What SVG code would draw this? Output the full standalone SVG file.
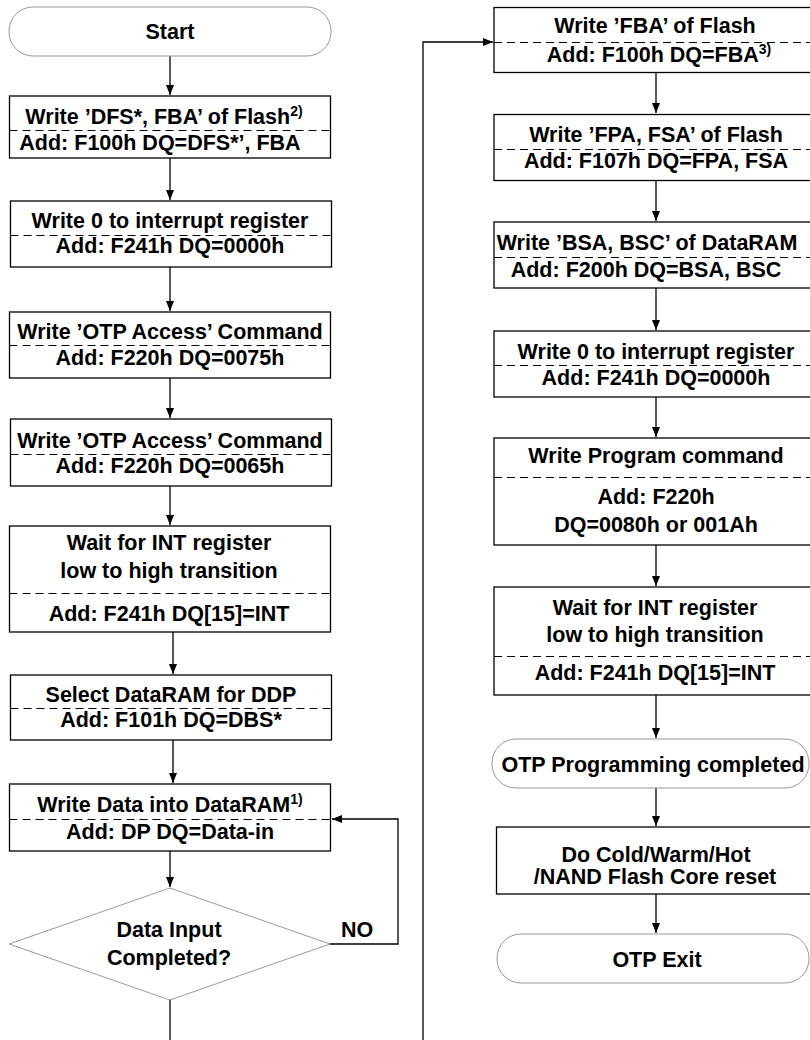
<svg xmlns="http://www.w3.org/2000/svg" width="810" height="1040" viewBox="0 0 810 1040">
<defs>
<style>
.box{fill:#fff;stroke:#000;stroke-width:1.3}
.term{fill:#fff;stroke:#999;stroke-width:1}
.dash{stroke:#000;stroke-width:1;stroke-dasharray:8,5;fill:none}
.t{font-family:"Liberation Sans",Arial,sans-serif;font-weight:bold;font-size:21.5px;fill:#000;text-anchor:middle}
.sup{font-size:14px}
.c{fill:none;stroke:#000;stroke-width:1.3}
</style>
<marker id="ah" markerUnits="userSpaceOnUse" markerWidth="10" markerHeight="8" refX="10" refY="4" orient="auto">
<path d="M0,0 L10,4 L0,8 z" fill="#000"/>
</marker>
</defs>
<rect width="810" height="1040" fill="#fff"/>

<g id="connectors">
<path class="c" d="M170,56 V95" marker-end="url(#ah)"/>
<path class="c" d="M170,158 V200" marker-end="url(#ah)"/>
<path class="c" d="M170,267 V311" marker-end="url(#ah)"/>
<path class="c" d="M170,378 V418" marker-end="url(#ah)"/>
<path class="c" d="M170,486 V525" marker-end="url(#ah)"/>
<path class="c" d="M173,632 V674" marker-end="url(#ah)"/>
<path class="c" d="M173,740 V783" marker-end="url(#ah)"/>
<path class="c" d="M170,851 V887" marker-end="url(#ah)"/>
<path class="c" d="M330,944 H398 V819 H332" marker-end="url(#ah)"/>
<path class="c" d="M170,1000 V1040"/>
<path class="c" d="M423,1040 V42 H493" marker-end="url(#ah)"/>
<path class="c" d="M656,73 V113" marker-end="url(#ah)"/>
<path class="c" d="M656,181 V221" marker-end="url(#ah)"/>
<path class="c" d="M656,288 V330" marker-end="url(#ah)"/>
<path class="c" d="M656,397 V437" marker-end="url(#ah)"/>
<path class="c" d="M656,545 V586" marker-end="url(#ah)"/>
<path class="c" d="M656,695 V738" marker-end="url(#ah)"/>
<path class="c" d="M656,788 V826" marker-end="url(#ah)"/>
<path class="c" d="M656,894 V933" marker-end="url(#ah)"/>
<text class="t" x="357" y="937">NO</text>
</g>

<g id="start">
<rect class="term" x="9" y="7" width="322" height="49" rx="24" ry="24"/>
<text class="t" x="170" y="39">Start</text>
</g>

<g id="write-dfs-fba">
<rect class="box" x="9.5" y="96" width="321" height="62"/>
<line class="dash" x1="9.5" y1="130.5" x2="330.5" y2="130.5"/>
<text class="t" x="164" y="124">Write ’DFS*, FBA’ of Flash<tspan class="sup" dy="-8">2)</tspan></text>
<text class="t" x="160" y="150">Add: F100h DQ=DFS*’, FBA</text>
</g>

<g id="write-int-1">
<rect class="box" x="10.5" y="201" width="321" height="66"/>
<line class="dash" x1="10.5" y1="235.5" x2="331.5" y2="235.5"/>
<text class="t" x="170" y="228">Write 0 to interrupt register</text>
<text class="t" x="170" y="253">Add: F241h DQ=0000h</text>
</g>

<g id="otp-access-1">
<rect class="box" x="9.5" y="312" width="321" height="66"/>
<line class="dash" x1="9.5" y1="345.5" x2="330.5" y2="345.5"/>
<text class="t" x="170" y="339">Write ’OTP Access’ Command</text>
<text class="t" x="170" y="365">Add: F220h DQ=0075h</text>
</g>

<g id="otp-access-2">
<rect class="box" x="10.5" y="419" width="321" height="67"/>
<line class="dash" x1="10.5" y1="454.5" x2="331.5" y2="454.5"/>
<text class="t" x="170" y="448">Write ’OTP Access’ Command</text>
<text class="t" x="170" y="473">Add: F220h DQ=0065h</text>
</g>

<g id="wait-int-1">
<rect class="box" x="9.5" y="526" width="321" height="106"/>
<line class="dash" x1="9.5" y1="593.5" x2="330.5" y2="593.5"/>
<text class="t" x="169" y="550">Wait for INT register</text>
<text class="t" x="169" y="578">low to high transition</text>
<text class="t" x="169" y="621">Add: F241h DQ[15]=INT</text>
</g>

<g id="select-dataram">
<rect class="box" x="10.5" y="675" width="321" height="65"/>
<line class="dash" x1="10.5" y1="708.5" x2="331.5" y2="708.5"/>
<text class="t" x="171" y="702">Select DataRAM for DDP</text>
<text class="t" x="171" y="727">Add: F101h DQ=DBS*</text>
</g>

<g id="write-data">
<rect class="box" x="9.5" y="784" width="321" height="67"/>
<line class="dash" x1="9.5" y1="819.5" x2="330.5" y2="819.5"/>
<text class="t" x="170" y="812">Write Data into DataRAM<tspan class="sup" dy="-8">1)</tspan></text>
<text class="t" x="170" y="839">Add: DP DQ=Data-in</text>
</g>

<g id="data-input-completed">
<polygon class="term" points="170,888 330,944 170,1000 9,944"/>
<text class="t" x="169" y="937">Data Input</text>
<text class="t" x="169" y="965">Completed?</text>
</g>

<g id="write-fba">
<rect class="box" x="494" y="7.5" width="330" height="65"/>
<line class="dash" x1="494" y1="42.5" x2="824" y2="42.5"/>
<text class="t" x="655" y="33">Write ’FBA’ of Flash</text>
<text class="t" x="659" y="62">Add: F100h DQ=FBA<tspan class="sup" dy="-8">3)</tspan></text>
</g>

<g id="write-fpa-fsa">
<rect class="box" x="494" y="114.5" width="330" height="66"/>
<line class="dash" x1="494" y1="149.5" x2="824" y2="149.5"/>
<text class="t" x="656" y="142">Write ’FPA, FSA’ of Flash</text>
<text class="t" x="656" y="168">Add: F107h DQ=FPA, FSA</text>
</g>

<g id="write-bsa-bsc">
<rect class="box" x="494" y="222" width="330" height="66"/>
<line class="dash" x1="494" y1="257.5" x2="824" y2="257.5"/>
<text class="t" x="647" y="250">Write ’BSA, BSC’ of DataRAM</text>
<text class="t" x="646" y="277">Add: F200h DQ=BSA, BSC</text>
</g>

<g id="write-int-2">
<rect class="box" x="494" y="331" width="330" height="66"/>
<line class="dash" x1="494" y1="365.5" x2="824" y2="365.5"/>
<text class="t" x="656" y="359">Write 0 to interrupt register</text>
<text class="t" x="656" y="385">Add: F241h DQ=0000h</text>
</g>

<g id="write-program">
<rect class="box" x="494" y="438" width="330" height="107"/>
<line class="dash" x1="494" y1="477.5" x2="824" y2="477.5"/>
<text class="t" x="656" y="463">Write Program command</text>
<text class="t" x="656" y="504">Add: F220h</text>
<text class="t" x="656" y="532">DQ=0080h or 001Ah</text>
</g>

<g id="wait-int-2">
<rect class="box" x="494" y="587" width="330" height="108"/>
<line class="dash" x1="494" y1="656.5" x2="824" y2="656.5"/>
<text class="t" x="655" y="615">Wait for INT register</text>
<text class="t" x="655" y="642">low to high transition</text>
<text class="t" x="655" y="680">Add: F241h DQ[15]=INT</text>
</g>

<g id="otp-programming-completed">
<rect class="term" x="492" y="739" width="317" height="49" rx="24" ry="24"/>
<text class="t" x="653" y="772">OTP Programming completed</text>
</g>

<g id="core-reset">
<rect class="box" x="496.5" y="827" width="330" height="67"/>
<text class="t" x="656" y="862">Do Cold/Warm/Hot</text>
<text class="t" x="655" y="884">/NAND Flash Core reset</text>
</g>

<g id="otp-exit">
<rect class="term" x="497" y="934" width="312" height="49" rx="24" ry="24"/>
<text class="t" x="657" y="967">OTP Exit</text>
</g>
</svg>
